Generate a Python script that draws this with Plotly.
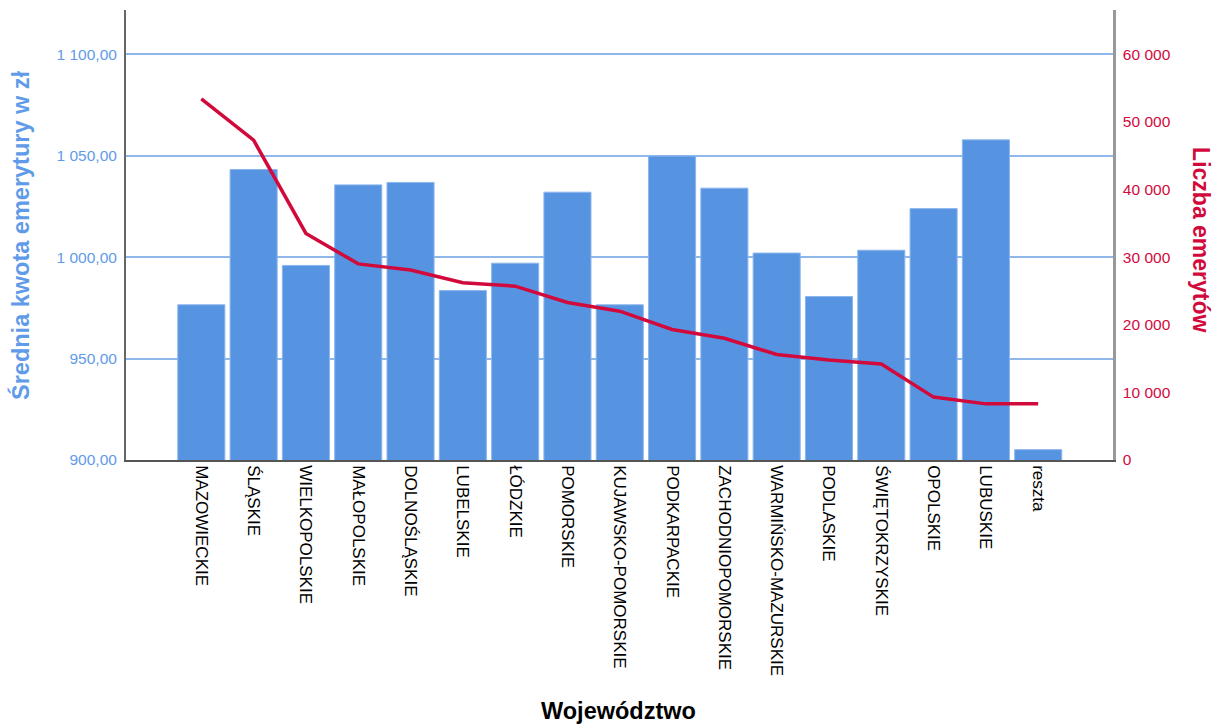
import plotly.graph_objects as go

categories = ["MAZOWIECKIE", "ŚLĄSKIE", "WIELKOPOLSKIE", "MAŁOPOLSKIE", "DOLNOŚLĄSKIE",
              "LUBELSKIE", "ŁÓDZKIE", "POMORSKIE", "KUJAWSKO-POMORSKIE", "PODKARPACKIE",
              "ZACHODNIOPOMORSKIE", "WARMIŃSKO-MAZURSKIE", "PODLASKIE", "ŚWIĘTOKRZYSKIE",
              "OPOLSKIE", "LUBUSKIE", "reszta"]
avg_pension = [976.5, 1043.2, 995.9, 1035.6, 1036.8, 983.5, 997.0, 1032.0, 976.5, 1049.8,
               1034.0, 1002.0, 980.6, 1003.4, 1023.9, 1057.8, 905.1]
pensioners = [53400, 47300, 33500, 29000, 28100, 26200, 25700, 23300, 22000, 19300,
              18000, 15600, 14800, 14200, 9300, 8300, 8300]

left_ticks = [900, 950, 1000, 1050, 1100]
left_ticktext = ["900,00", "950,00", "1 000,00", "1 050,00", "1 100,00"]
right_ticks = [0, 10000, 20000, 30000, 40000, 50000, 60000]
right_ticktext = ["0", "10 000", "20 000", "30 000", "40 000", "50 000", "60 000"]

FONT = "Liberation Sans, Arial, sans-serif"
BLUE_BAR = "rgb(86,148,226)"
BLUE_TXT = "rgb(95,155,232)"
RED = "rgb(210,10,60)"

fig = go.Figure()
fig.add_trace(go.Bar(
    x=categories, y=avg_pension, width=0.9,
    marker=dict(color=BLUE_BAR, line=dict(color="rgb(140,182,236)", width=1)),
    yaxis="y", showlegend=False,
))
fig.add_trace(go.Scatter(
    x=categories, y=pensioners, mode="lines",
    line=dict(color=RED, width=3.5),
    yaxis="y2", showlegend=False,
))

fig.update_layout(
    width=1214, height=726,
    margin=dict(l=126, r=101, t=10, b=266),
    paper_bgcolor="white", plot_bgcolor="white",
    font=dict(family=FONT),
    xaxis=dict(
        range=[-1.44, 17.43], type="category",
        showline=True, linecolor="#555", linewidth=1.5,
        showgrid=False, ticks="", tickangle=90,
        tickfont=dict(size=17, color="black", family=FONT),
    ),
    yaxis=dict(
        range=[900, 1121.8],
        tickvals=left_ticks, ticktext=left_ticktext,
        tickfont=dict(size=15.5, color=BLUE_TXT, family=FONT),
        showgrid=True, gridcolor="rgb(143,183,236)", gridwidth=1.5,
        zeroline=False,
        showline=True, linecolor="#666", linewidth=2,
        ticks="", ticklabelstandoff=4,
    ),
    yaxis2=dict(
        range=[0, 66540], overlaying="y", side="right",
        tickvals=right_ticks, ticktext=right_ticktext,
        tickfont=dict(size=15.5, color=RED, family=FONT),
        showgrid=False, zeroline=False,
        showline=True, linecolor="#999", linewidth=2.5,
        ticks="", ticklabelstandoff=4,
    ),
    annotations=[
        dict(text="<b>Średnia kwota emerytury w zł</b>", xref="paper", yref="paper",
             x=-0.1074, y=0.5, xanchor="center", yanchor="middle", textangle=-90,
             showarrow=False, font=dict(size=23.5, color=BLUE_TXT, family=FONT)),
        dict(text="<b>Liczba emerytów</b>", xref="paper", yref="paper",
             x=1.089, y=0.489, xanchor="center", yanchor="middle", textangle=90,
             showarrow=False, font=dict(size=23, color=RED, family=FONT)),
        dict(text="<b>Województwo</b>", xref="paper", yref="paper",
             x=0.499, y=-0.5567, xanchor="center", yanchor="middle",
             showarrow=False, font=dict(size=23.5, color="black", family=FONT)),
    ],
)

fig.write_html("out.html", config={"displayModeBar": False},
               post_script="document.body.style.margin='0';document.body.style.overflow='hidden';")
